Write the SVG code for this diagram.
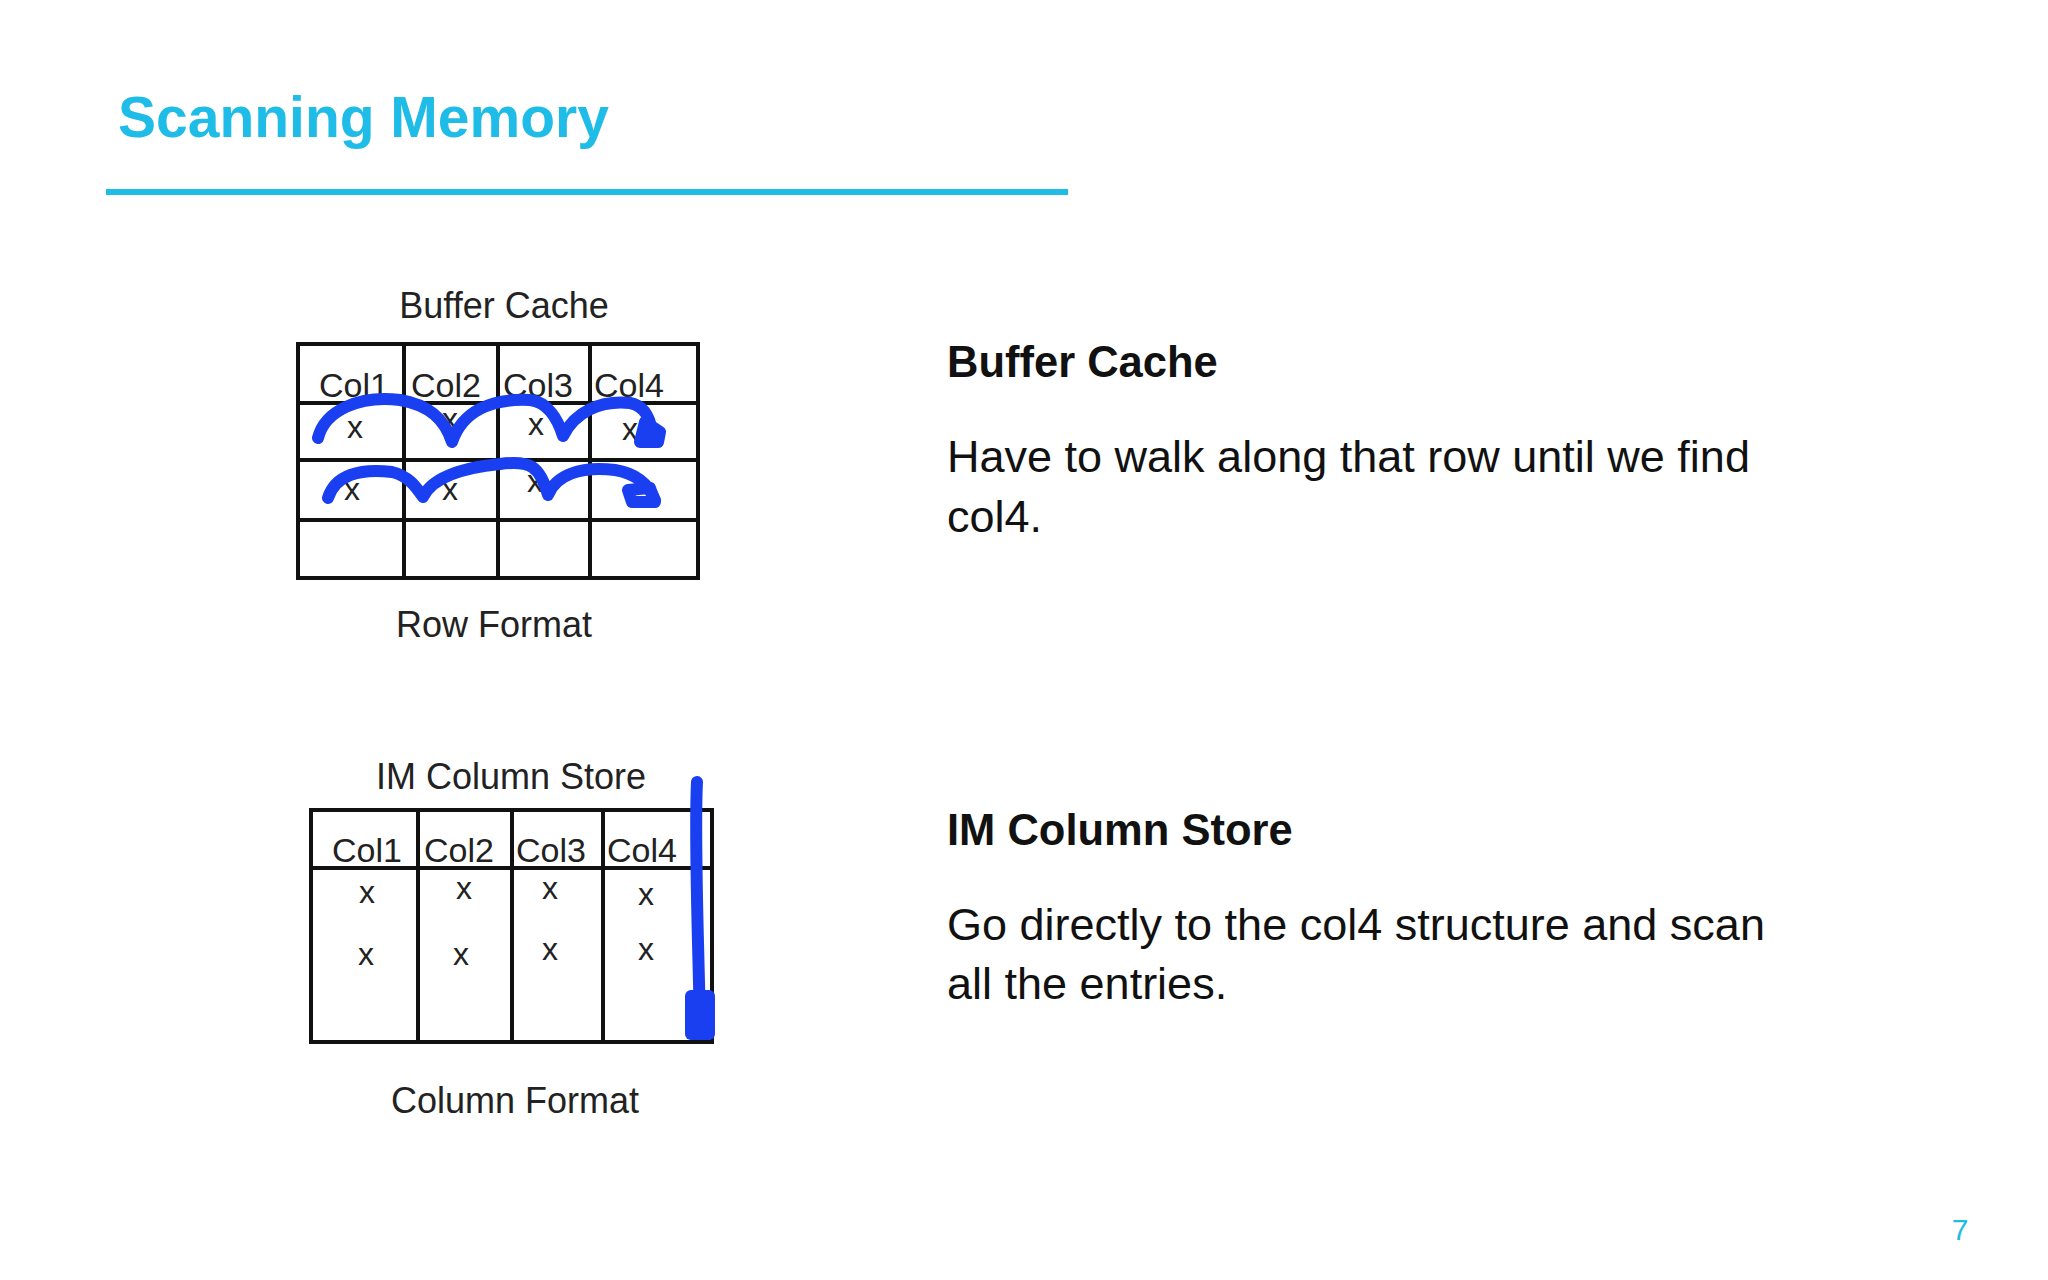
<svg xmlns="http://www.w3.org/2000/svg" width="2048" height="1280" viewBox="0 0 2048 1280">
<style>
.f{font-family:"Liberation Sans",Arial,sans-serif}
.g{fill:none;stroke:#111;stroke-width:4}
.l{font-family:"Liberation Sans",Arial,sans-serif;font-size:36px;fill:#222;text-anchor:middle}
.c{font-family:"Liberation Sans",Arial,sans-serif;font-size:34px;fill:#222}
.x{font-family:"Liberation Sans",Arial,sans-serif;font-size:32px;fill:#222;text-anchor:middle}
.b{fill:none;stroke:#1a3ff0;stroke-width:12;stroke-linecap:round;stroke-linejoin:round}
.h{font-family:"Liberation Sans",Arial,sans-serif;font-size:43.5px;font-weight:bold;fill:#111}
.t{font-family:"Liberation Sans",Arial,sans-serif;font-size:45px;fill:#111}
</style>
<rect width="2048" height="1280" fill="#fff"/>
<g id="title"><text class="f" x="118" y="137" font-size="57" font-weight="bold" fill="#1ebce6">Scanning Memory</text>
<line x1="106" y1="192" x2="1068" y2="192" stroke="#1ebce6" stroke-width="6"/></g>
<g id="rowtable">
<text class="l" x="504" y="318">Buffer Cache</text>
<rect class="g" x="298" y="344" width="400" height="234"/>
<path class="g" d="M404 344V578M498 344V578M590 344V578M298 403H698M298 460H698M298 520H698"/>
<text class="c" x="319" y="397">Col1</text><text class="c" x="411" y="397">Col2</text><text class="c" x="503" y="397">Col3</text><text class="c" x="594" y="397">Col4</text>
<text class="x" x="355" y="438">x</text><text class="x" x="450" y="430">x</text><text class="x" x="536" y="435">x</text><text class="x" x="630" y="440">x</text>
<text class="x" x="352" y="500">x</text><text class="x" x="450" y="500">x</text><text class="x" x="535" y="492">x</text>
<text class="l" x="494" y="637">Row Format</text>
</g>
<g id="coltable">
<text class="l" x="511" y="789">IM Column Store</text>
<rect class="g" x="311" y="810" width="401" height="232"/>
<path class="g" d="M418 868V1042M512 810V1042M603 810V1042M311 868H712M418 810V868"/>
<text class="c" x="332" y="862">Col1</text><text class="c" x="424" y="862">Col2</text><text class="c" x="516" y="862">Col3</text><text class="c" x="607" y="862">Col4</text>
<text class="x" x="367" y="903">x</text><text class="x" x="464" y="899">x</text><text class="x" x="550" y="899">x</text><text class="x" x="646" y="905">x</text>
<text class="x" x="366" y="965">x</text><text class="x" x="461" y="965">x</text><text class="x" x="550" y="960">x</text><text class="x" x="646" y="960">x</text>
<text class="l" x="515" y="1113">Column Format</text>
</g>
<g id="connectors">
<path class="b" d="M318 438C325 410 360 395 400 400C430 405 445 420 452 442C462 412 490 398 530 400C548 402 558 420 563 436C575 412 600 400 630 403C645 406 650 418 652 432"/>
<path class="b" d="M645 422L660 432L658 442L640 442Z" fill="#1a3ff0"/>
<path class="b" d="M328 498C335 475 360 468 392 472C410 476 418 490 423 497C432 478 460 468 500 464C530 460 540 466 548 495C556 475 580 466 615 470C640 474 650 488 655 500"/>
<path class="b" d="M628 490L650 488L655 502L632 502Z" fill="#1a3ff0"/>
<path class="b" d="M697 782C694 840 699 960 700 1030"/>
<rect x="685" y="990" width="30" height="50" rx="6" fill="#1a3ff0"/>
</g>
<g id="text1"><text class="h" x="947" y="377">Buffer Cache</text>
<text class="t" x="947" y="472">Have to walk along that row until we find</text>
<text class="t" x="947" y="532">col4.</text></g>
<g id="text2"><text class="h" x="947" y="845">IM Column Store</text>
<text class="t" x="947" y="940">Go directly to the col4 structure and scan</text>
<text class="t" x="947" y="999">all the entries.</text></g>
<text class="f" x="1960" y="1240" font-size="30" fill="#1ebce6" text-anchor="middle">7</text>
</svg>
